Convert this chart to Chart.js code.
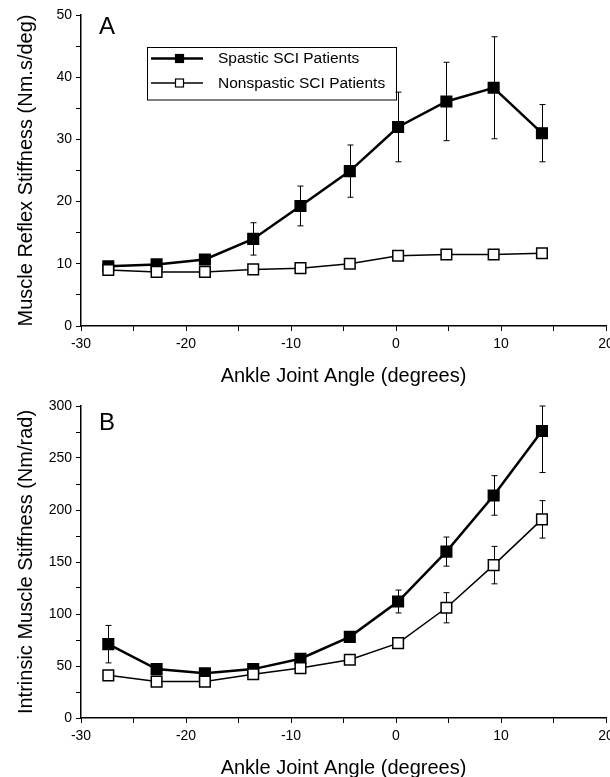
<!DOCTYPE html>
<html>
<head>
<meta charset="utf-8">
<script src="https://cdn.jsdelivr.net/npm/chart.js@4.4.1/dist/chart.umd.min.js"></script>
<style>
  html, body { margin: 0; padding: 0; background: #fff; overflow: hidden; width: 610px; height: 777px; }
  canvas { position: absolute; left: 0; }
  #chartA { top: 0; }
  #chartB { top: 392px; }
</style>
</head>
<body>
<canvas id="chartA" width="615" height="392"></canvas>
<canvas id="chartB" width="615" height="392"></canvas>
<script>
// ankle angles (degrees), same for every series
const angles = [-27.4, -22.8, -18.2, -13.6, -9.1, -4.4, 0.2, 4.8, 9.3, 13.9];

// panel A - reflex stiffness (Nm.s/deg)
const reflexSpastic = [9.6, 9.9, 10.7, 14.0, 19.3, 24.9, 32.0, 36.1, 38.3, 31.0];
const reflexSpasticErr = [0, 0, 0, 2.6, 3.2, 4.2, 5.6, 6.3, 8.2, 4.6];
const reflexNonspastic = [9.0, 8.7, 8.7, 9.1, 9.3, 10.0, 11.3, 11.5, 11.5, 11.7];
const reflexNonspasticErr = [0, 0, 0, 0, 0, 0, 0, 0, 0, 0];

// panel B - intrinsic stiffness (Nm/rad)
const intrinsicSpastic = [71, 47, 43, 47, 57, 78, 112, 160, 214, 276];
const intrinsicSpasticErr = [18, 0, 0, 0, 0, 0, 11, 14, 19, 40];
const intrinsicNonspastic = [41, 35, 35, 42, 48, 56, 72, 106, 147, 191];
const intrinsicNonspasticErr = [0, 0, 0, 0, 0, 0, 0, 14.5, 18, 18];

// labelled ticks (minor ticks stay unlabelled)
const xTickLabels = [-30, -20, -10, 0, 10, 20];
const yTickLabelsA = [0, 10, 20, 30, 40, 50];
const yTickLabelsB = [0, 50, 100, 150, 200, 250, 300];

const seriesNames = ['Spastic SCI Patients', 'Nonspastic SCI Patients'];

Chart.defaults.font.family = "'Liberation Sans', Arial, Helvetica, sans-serif";
Chart.defaults.color = '#000';

const FONT = "'Liberation Sans', Arial, Helvetica, sans-serif";

// error bars drawn under the markers
const errorBars = {
    id: 'errorBars',
    beforeDatasetsDraw(chart) {
        const ctx = chart.ctx;
        const yScale = chart.scales.y;
        const area = chart.chartArea;
        ctx.save();
        ctx.strokeStyle = '#000';
        ctx.lineWidth = 1;
        chart.data.datasets.forEach((ds, di) => {
            if (!ds.errors) return;
            const meta = chart.getDatasetMeta(di);
            meta.data.forEach((pt, i) => {
                const e = ds.errors[i];
                if (!e) return;
                const v = ds.data[i].y;
                const top = Math.max(yScale.getPixelForValue(v + e), area.top);
                const bot = Math.min(yScale.getPixelForValue(v - e), area.bottom);
                const x = Math.round(pt.x) + 0.5;
                ctx.beginPath();
                ctx.moveTo(x, top);
                ctx.lineTo(x, bot);
                ctx.moveTo(x - 3, top);
                ctx.lineTo(x + 3, top);
                ctx.moveTo(x - 3, bot);
                ctx.lineTo(x + 3, bot);
                ctx.stroke();
            });
        });
        ctx.restore();
    }
};

// panel letter + boxed legend
const panelExtras = {
    id: 'panelExtras',
    afterDraw(chart, args, opts) {
        const ctx = chart.ctx;
        ctx.save();
        ctx.fillStyle = '#000';
        ctx.textBaseline = 'middle';
        ctx.textAlign = 'left';
        ctx.font = '24px ' + FONT;
        ctx.fillText(opts.letter, 99, opts.letterY);

        if (opts.legend) {
            ctx.strokeStyle = '#000';
            ctx.lineWidth = 1;
            ctx.strokeRect(147.5, 47.5, 249, 52.5);
            const rows = [58.5, 83];
            chart.data.datasets.forEach((ds, i) => {
                const y = rows[i];
                ctx.strokeStyle = '#000';
                ctx.lineWidth = ds.borderWidth;
                ctx.beginPath();
                ctx.moveTo(151, y);
                ctx.lineTo(203, y);
                ctx.stroke();
                ctx.fillStyle = ds.pointBackgroundColor;
                ctx.lineWidth = 1.2;
                ctx.fillRect(175.5, y - 4, 8, 8);
                ctx.strokeRect(175.5, y - 4, 8, 8);
                ctx.fillStyle = '#000';
                ctx.font = '15.5px ' + FONT;
                ctx.fillText(ds.label, 218, y + 0.5);
            });
        }
        ctx.restore();
    }
};

function series(values) {
    return angles.map((a, i) => ({ x: a, y: values[i] }));
}

function makeChart(id, spastic, spasticErr, nonspastic, nonspasticErr, yMax, yStep, yLabels, yTitle, padTop, letter, letterY, legend) {
    return new Chart(document.getElementById(id), {
        type: 'scatter',
        data: {
            datasets: [{
                label: seriesNames[0],
                data: series(spastic),
                errors: spasticErr,
                showLine: true,
                borderColor: '#000',
                borderWidth: 2.5,
                pointStyle: 'rect',
                pointRadius: 7.5,
                pointBorderWidth: 1.5,
                pointBorderColor: '#000',
                pointBackgroundColor: '#000',
                order: 2
            }, {
                label: seriesNames[1],
                data: series(nonspastic),
                errors: nonspasticErr,
                showLine: true,
                borderColor: '#000',
                borderWidth: 1.5,
                pointStyle: 'rect',
                pointRadius: 7.5,
                pointBorderWidth: 1.5,
                pointBorderColor: '#000',
                pointBackgroundColor: '#fff',
                order: 1
            }]
        },
        options: {
            responsive: false,
            animation: false,
            devicePixelRatio: 1,
            layout: { padding: { left: 10, right: 4, top: padTop, bottom: 0 } },
            plugins: {
                legend: { display: false },
                tooltip: { enabled: false },
                panelExtras: { letter: letter, letterY: letterY, legend: legend }
            },
            scales: {
                x: {
                    type: 'linear',
                    min: -30,
                    max: 20,
                    grid: { display: true, drawOnChartArea: false, drawTicks: true, tickLength: 5, color: '#000', tickWidth: 1 },
                    border: { display: true, color: '#000', width: 1.5 },
                    ticks: {
                        stepSize: 5,
                        autoSkip: false,
                        maxRotation: 0,
                        padding: 5,
                        font: { size: 14 },
                        callback: v => xTickLabels.includes(v) ? String(v) : ''
                    },
                    title: { display: true, text: 'Ankle Joint Angle (degrees)', font: { size: 20 }, padding: { top: 4, bottom: 4 } },
                    afterFit: s => { s.height = 66; s.paddingLeft = 0; s.paddingRight = 0; }
                },
                y: {
                    type: 'linear',
                    min: 0,
                    max: yMax,
                    grid: { display: true, drawOnChartArea: false, drawTicks: true, tickLength: 5, color: '#000', tickWidth: 1 },
                    border: { display: true, color: '#000', width: 1.5 },
                    ticks: {
                        stepSize: yStep,
                        autoSkip: false,
                        padding: 4,
                        font: { size: 14 },
                        callback: v => yLabels.includes(v) ? String(v) : ''
                    },
                    title: { display: true, text: yTitle, font: { size: 20 }, padding: { top: 4, bottom: 4 } },
                    afterFit: s => { s.width = 71; s.paddingTop = 0; s.paddingBottom = 0; }
                }
            }
        },
        plugins: [errorBars, panelExtras]
    });
}

makeChart('chartA', reflexSpastic, reflexSpasticErr, reflexNonspastic, reflexNonspasticErr,
    50, 5, yTickLabelsA, 'Muscle Reflex Stiffness (Nm.s/deg)', 15, 'A', 27, true);
makeChart('chartB', intrinsicSpastic, intrinsicSpasticErr, intrinsicNonspastic, intrinsicNonspasticErr,
    300, 25, yTickLabelsB, 'Intrinsic Muscle Stiffness (Nm/rad)', 14, 'B', 31, false);
</script>
</body>
</html>
